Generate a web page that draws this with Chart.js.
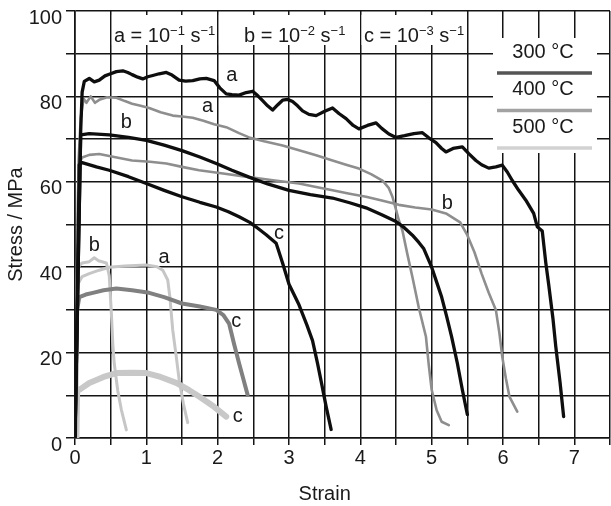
<!DOCTYPE html>
<html>
<head>
<meta charset="utf-8">
<script src="https://cdn.jsdelivr.net/npm/chart.js@4/dist/chart.umd.min.js"></script>
<style>
  html, body { margin: 0; padding: 0; background: #fff; }
  #wrap { width: 611px; height: 506px; position: relative; }
</style>
</head>
<body>
<div id="wrap"><canvas id="stressChart"></canvas></div>
<script>
// curvas [strain, stress] (a = 10^-1, b = 10^-2, c = 10^-3 s^-1)
const c300a = [[0,0],[0.05,45],[0.08,72],[0.1,81],[0.13,83.5],[0.2,84.2],[0.27,83.4],[0.34,83.8],[0.42,84.8],[0.48,85.2],[0.58,85.8],[0.67,86],[0.74,85.6],[0.8,85.1],[0.88,84.5],[0.95,84.1],[1.02,84.6],[1.09,84.9],[1.18,85.3],[1.28,85.6],[1.36,85],[1.46,83.8],[1.55,83.6],[1.65,83.7],[1.75,84.1],[1.84,84.2],[1.95,83.7],[2.03,82],[2.12,80.6],[2.2,80.4],[2.3,80.3],[2.4,80.9],[2.49,81.2],[2.56,80.2],[2.63,79],[2.7,77.8],[2.77,76.8],[2.84,78],[2.91,79.1],[2.98,79.3],[3.05,78.8],[3.12,77.8],[3.19,76.6],[3.28,75.8],[3.38,75.5],[3.5,76.5],[3.61,77.3],[3.7,76],[3.8,74.8],[3.9,73.2],[3.98,72.4],[4.1,73.2],[4.22,73.8],[4.3,72.5],[4.4,71.2],[4.5,70.4],[4.62,70.8],[4.75,71.3],[4.87,71.5],[4.96,70.3],[5.06,69.2],[5.14,67.8],[5.2,67],[5.3,67.8],[5.43,68.2],[5.52,66.6],[5.62,65],[5.7,64],[5.8,63.2],[5.9,63.5],[5.99,63.9],[6.06,62.3],[6.13,60.3],[6.22,58],[6.32,55.7],[6.43,52.6],[6.48,49.5],[6.55,48.5],[6.6,41],[6.64,36],[6.7,28],[6.74,21.4],[6.8,13],[6.85,5]];
const c300b = [[0,0],[0.05,45],[0.08,71],[0.2,71.3],[0.48,71],[0.75,70.4],[1,69.7],[1.25,68.6],[1.5,67.3],[1.75,65.8],[1.98,64.3],[2.2,62.7],[2.44,61.1],[2.7,59.5],[3,58],[3.3,57],[3.61,56.2],[3.85,55.1],[4.08,53.9],[4.3,52.3],[4.5,50.7],[4.62,49.2],[4.73,47.5],[4.82,45.8],[4.89,44.3],[5,40],[5.07,36.5],[5.14,33],[5.21,28.5],[5.28,23.7],[5.36,17.5],[5.43,11.3],[5.5,5.5]];
const c300c = [[0,0],[0.04,40],[0.06,64],[0.1,64.5],[0.3,63.5],[0.48,62.7],[0.75,61.2],[1,59.6],[1.25,58],[1.5,56.5],[1.75,55.2],[1.98,54.1],[2.15,53],[2.3,51.8],[2.45,50.5],[2.54,49.4],[2.68,47.6],[2.82,45.6],[2.91,41],[3,36],[3.14,31.2],[3.25,26.5],[3.33,22.8],[3.4,17.5],[3.46,12.5],[3.52,7.4],[3.59,2]];
const c400a = [[0,0],[0.03,40],[0.05,65],[0.08,75],[0.12,79.5],[0.16,78.5],[0.22,80],[0.28,78.5],[0.34,79.2],[0.45,79.8],[0.58,79.7],[0.7,78.9],[0.8,78.3],[0.92,77.8],[1.04,77.3],[1.2,76.3],[1.37,75.5],[1.5,75.3],[1.65,75],[1.8,74.3],[1.95,73.5],[2.12,72.8],[2.3,71.4],[2.44,70.4],[2.65,69.5],[2.91,68.5],[3.14,67.4],[3.38,66.2],[3.61,65],[3.8,64],[3.98,63.1],[4.15,61.8],[4.31,60.3],[4.4,58.5],[4.45,56.5],[4.5,53.5],[4.54,51],[4.59,48.6],[4.66,43],[4.73,37.7],[4.82,30.5],[4.92,23.7],[4.96,17],[5,11.3],[5.07,6.5],[5.14,3.8],[5.24,3]];
const c400b = [[0,0],[0.03,40],[0.05,64],[0.1,65.7],[0.2,66.3],[0.34,66.5],[0.55,65.8],[0.8,65],[1.05,64.7],[1.28,64.3],[1.5,63.5],[1.74,62.7],[2.1,61.9],[2.44,61.1],[2.8,60.3],[3.14,59.6],[3.38,58.8],[3.61,58],[3.85,57.2],[4.08,56.5],[4.3,55.6],[4.54,54.6],[4.77,54],[5,53.5],[5.2,52.6],[5.4,50.5],[5.5,47.5],[5.6,43.5],[5.7,38.5],[5.8,34],[5.9,30],[5.95,24.5],[5.99,19],[6.04,14],[6.09,9.7],[6.2,6.2]];
const c400c = [[0,0],[0.03,30],[0.06,33],[0.15,33.6],[0.25,34],[0.4,34.6],[0.58,35],[0.8,34.6],[1.04,34],[1.25,33],[1.5,31.5],[1.75,30.8],[1.98,30],[2.08,28.8],[2.16,26.8],[2.23,22],[2.3,17.5],[2.36,13.8],[2.42,10.1]];
const c500a = [[0.02,0],[0.04,36],[0.1,37.8],[0.2,38.5],[0.34,39.3],[0.48,40],[0.7,40.3],[1,40.5],[1.15,40.1],[1.23,39.3],[1.3,37],[1.33,33],[1.37,25.3],[1.42,19],[1.46,13.6],[1.52,8],[1.58,3.6]];
const c500b = [[0.02,0],[0.04,40],[0.1,41],[0.2,41.3],[0.27,42.2],[0.33,41.5],[0.44,41],[0.48,38],[0.51,29.2],[0.53,22],[0.55,17.5],[0.6,11],[0.65,6.6],[0.72,1.9]];
const c500c = [[0.02,0],[0.03,11],[0.08,11.5],[0.2,12.9],[0.4,14.3],[0.58,15.2],[0.8,15.3],[1,15.2],[1.2,14.3],[1.42,12.9],[1.6,11.2],[1.74,9.7],[1.95,7.3],[2.12,5]];

// etiquetas de los ejes
const xTickLabels = [0, 1, 2, 3, 4, 5, 6, 7];
const yTickLabels = [0, 20, 40, 60, 80, 100];
const tempLabels = ['300 °C', '400 °C', '500 °C'];
const rateLabels = [['a = 10', '−1'], ['b = 10', '−2'], ['c = 10', '−3']];

// letras junto a cada curva: [texto, strain, stress]
const curveTags = [['a', 2.2, 84.9], ['a', 1.86, 77.6], ['b', 0.72, 73.9], ['c', 2.86, 48], ['b', 5.22, 55], ['b', 0.27, 45.2], ['a', 1.25, 42.3], ['c', 2.26, 27.3], ['c', 2.28, 5]];

const FONT = "'Liberation Sans', Arial, sans-serif";
const GRID = '#141414';

// dibujo de recuadros, letras y leyenda
const extras = {
  id: 'extras',
  afterDatasetsDraw(chart) {
    const { ctx, chartArea: area, scales: { x, y } } = chart;
    ctx.save();

    // cajitas blancas del encabezado de velocidades
    ctx.fillStyle = '#fff';
    [[0.5, 2], [2, 4], [4, 5.5]].forEach(([a, b]) => {
      const l = x.getPixelForValue(a) + 1.2, r = x.getPixelForValue(b) - 1.2;
      ctx.fillRect(l, area.top + 4, r - l, 30);
    });
    const starts = [0.545, 2.37, 4.05];
    ctx.fillStyle = '#1a1a1a';
    ctx.textAlign = 'left';
    ctx.textBaseline = 'alphabetic';
    rateLabels.forEach(([base, exp], i) => {
      let px = x.getPixelForValue(starts[i]);
      const base1 = area.top + 30.5, base2 = area.top + 23.5;
      ctx.font = '20px ' + FONT;
      ctx.fillText(base, px, base1);
      px += ctx.measureText(base).width;
      ctx.font = '13px ' + FONT;
      ctx.fillText(exp, px, base2);
      px += ctx.measureText(exp).width;
      ctx.font = '20px ' + FONT;
      ctx.fillText(' s', px, base1);
      px += ctx.measureText(' s').width;
      ctx.font = '13px ' + FONT;
      ctx.fillText('−1', px, base2);
    });

    // leyenda de temperaturas
    const lx = area.right - 117, lw = 104, ly = area.top + 27, lh = 115;
    ctx.fillStyle = '#fff';
    ctx.fillRect(lx, ly, lw, lh);
    const lineColors = ['#555555', '#a2a2a2', '#d2d2d2'];
    ctx.font = '20px ' + FONT;
    ctx.textAlign = 'center';
    ctx.textBaseline = 'middle';
    tempLabels.forEach((t, i) => {
      const cy = ly + 14 + i * 37.5;
      ctx.fillStyle = '#1a1a1a';
      ctx.fillText(t, lx + 50, cy);
      ctx.strokeStyle = lineColors[i];
      ctx.lineWidth = 3.5;
      ctx.beginPath();
      ctx.moveTo(lx + 4, cy + 21);
      ctx.lineTo(lx + 99, cy + 21);
      ctx.stroke();
    });

    // letras de las curvas
    ctx.fillStyle = '#1a1a1a';
    curveTags.forEach(([t, sx, sy]) => {
      ctx.fillText(t, x.getPixelForValue(sx), y.getPixelForValue(sy));
    });

    // titulo del eje x, centrado sobre 0-7 como en la figura
    ctx.fillText('Strain', x.getPixelForValue(3.5), area.bottom + 56.5);
    ctx.restore();
  }
};

function curve(data, color, width) {
  return { data: data, borderColor: color, borderWidth: width, pointRadius: 0, tension: 0,
           borderJoinStyle: 'round', borderCapStyle: 'round', fill: false };
}

const ctx = document.getElementById('stressChart').getContext('2d');
new Chart(ctx, {
  type: 'line',
  data: {
    datasets: [
      curve(c300a, '#0e0e0e', 3.3),
      curve(c300b, '#0e0e0e', 3.3),
      curve(c300c, '#0e0e0e', 3.3),
      curve(c400a, '#8e8e8e', 2.6),
      curve(c400b, '#8e8e8e', 2.6),
      curve(c400c, '#808080', 4),
      curve(c500a, '#c6c6c6', 3),
      curve(c500b, '#c6c6c6', 3),
      curve(c500c, '#c8c8c8', 6)
    ]
  },
  options: {
    responsive: true,
    maintainAspectRatio: false,
    animation: false,
    layout: { padding: { top: 11, right: 1, left: 0, bottom: 0 } },
    plugins: { legend: { display: false }, tooltip: { enabled: false } },
    scales: {
      x: {
        type: 'linear', min: 0, max: 7.5,
        grid: { color: GRID, lineWidth: 1.5, tickLength: 7, tickColor: GRID },
        border: { color: GRID, width: 1.6 },
        ticks: {
          stepSize: 0.5, autoSkip: false, maxRotation: 0, padding: 1,
          color: '#1a1a1a', font: { family: FONT, size: 20 },
          callback: v => xTickLabels.includes(v) ? String(v) : ''
        },
        afterFit: s => { s.height = 68; s.paddingLeft = 0; s.paddingRight = 0; }
      },
      y: {
        min: 0, max: 100,
        grid: { color: GRID, lineWidth: 1.5, tickLength: 9, tickColor: GRID },
        border: { color: GRID, width: 1.6 },
        ticks: {
          stepSize: 10, autoSkip: false, padding: 4, labelOffset: 7,
          color: '#1a1a1a', font: { family: FONT, size: 20 },
          callback: v => yTickLabels.includes(v) ? String(v) : ''
        },
        title: { display: true, text: 'Stress / MPa', color: '#1a1a1a', font: { family: FONT, size: 20 }, padding: { top: 4, bottom: 0 } },
        afterFit: s => { s.width = 75; s.paddingTop = 0; s.paddingBottom = 0; }
      }
    }
  },
  plugins: [extras]
});
</script>
</body>
</html>
